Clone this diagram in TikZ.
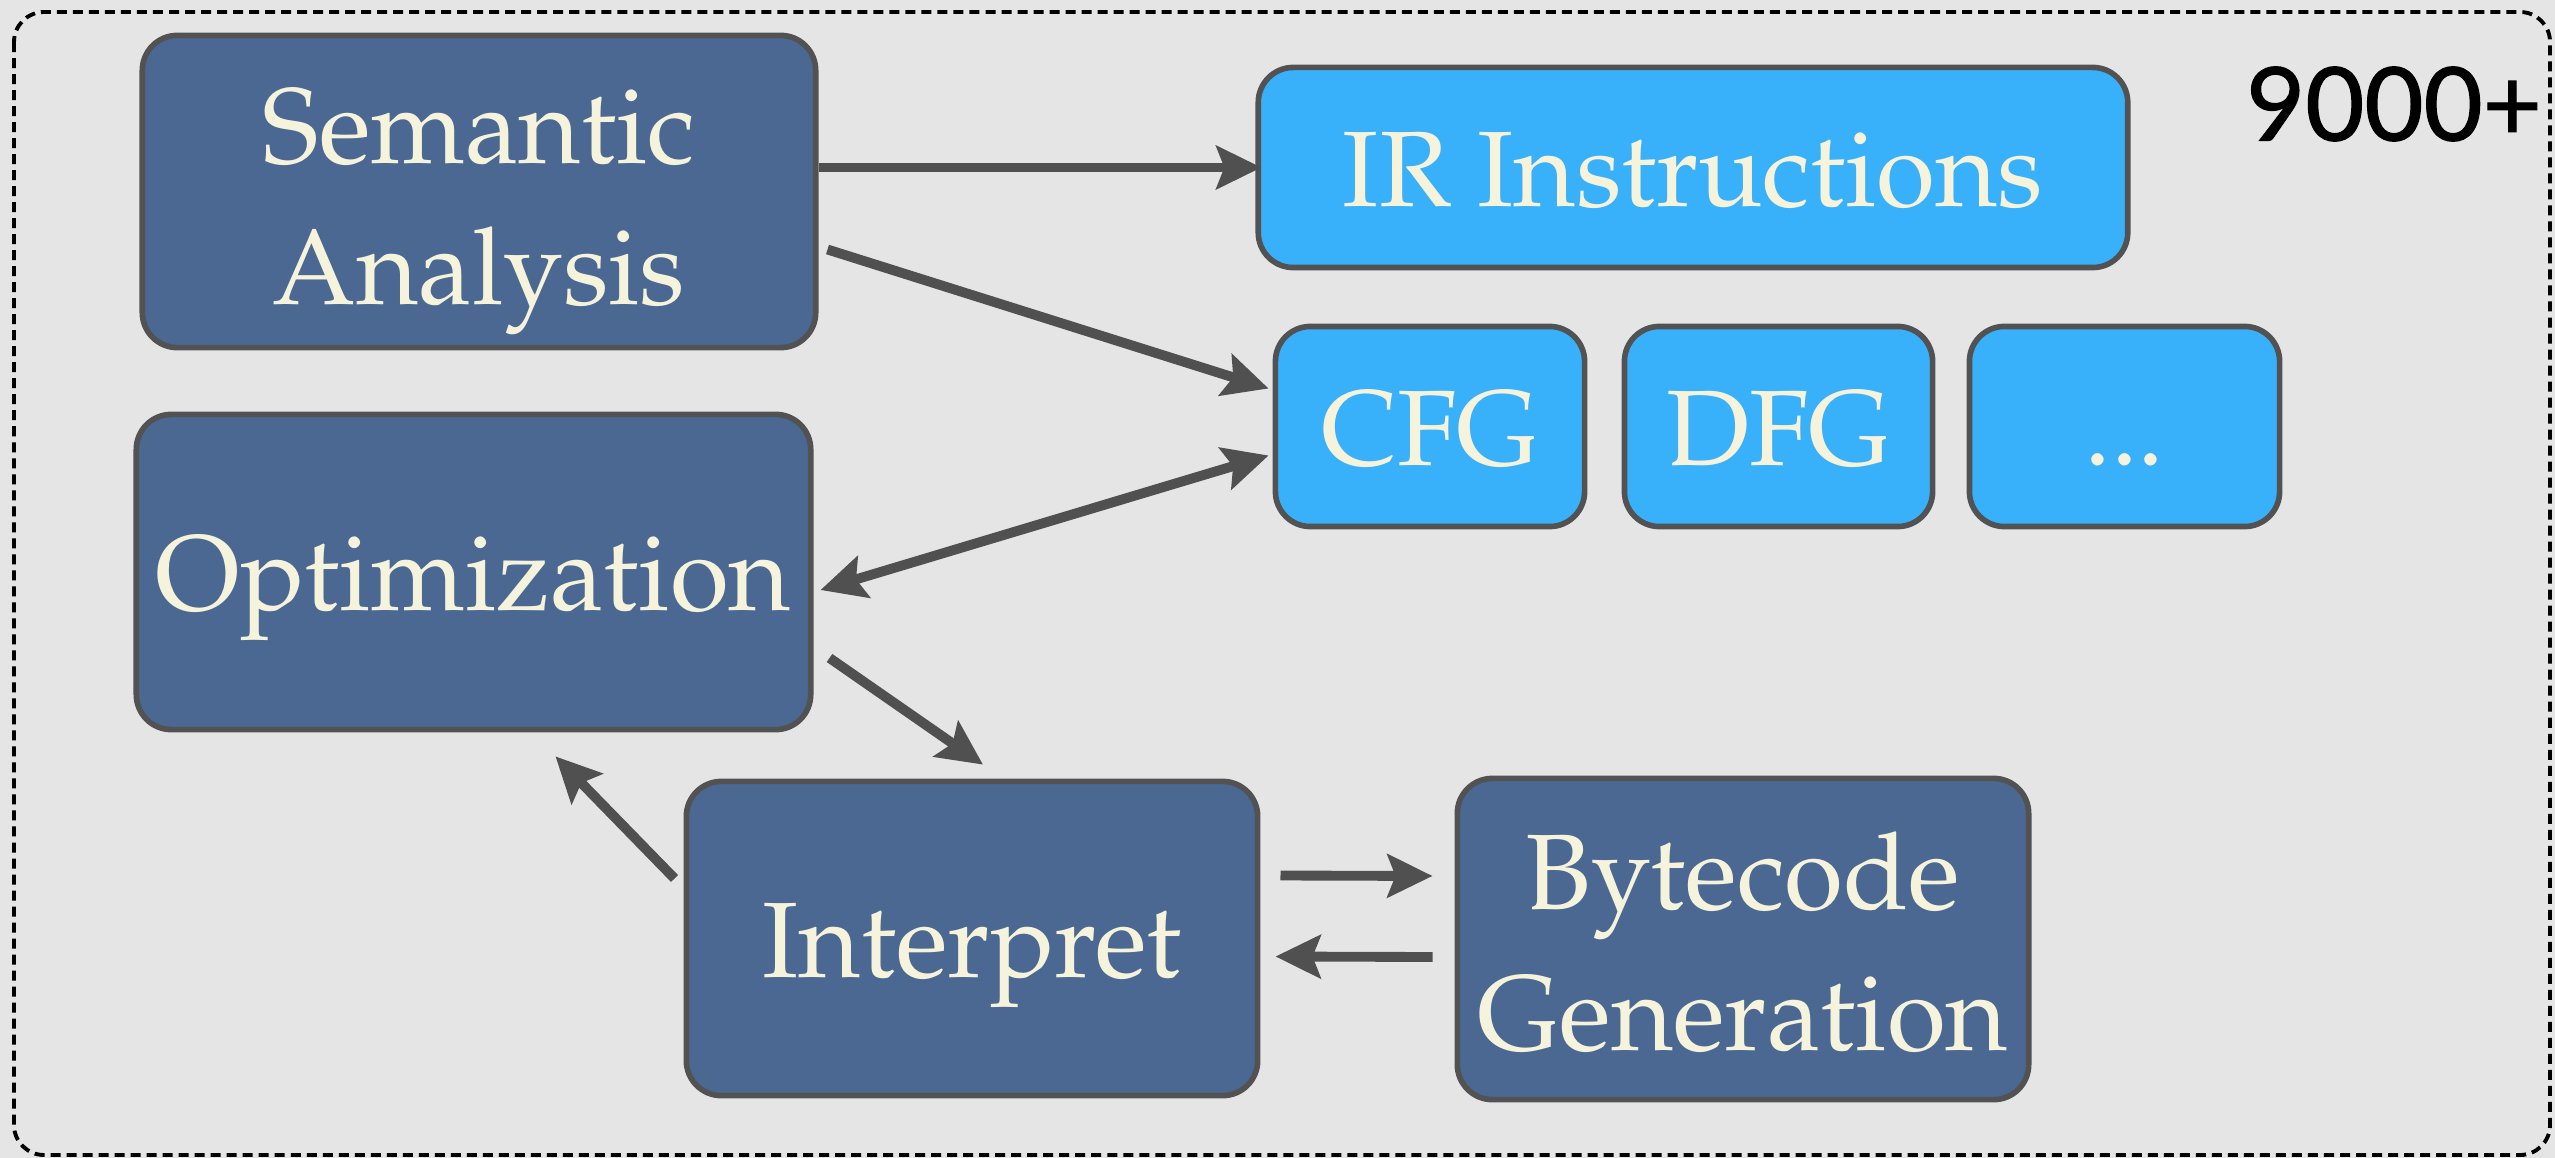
\documentclass[tikz,border=0pt]{standalone}
\usepackage[T1]{fontenc}
\usepackage{fontspec}
\usetikzlibrary{arrows.meta,calc}
\newfontfamily\numfont[FakeBold=1.2]{Lato}
\newcommand\palfont{\fontencoding{T1}\fontfamily{ppl}\selectfont}
% centred label block whose last baseline sits #1 below the node centre
\newcommand\sunk[2]{\raisebox{-#1}[0pt][0pt]{\begin{tabular}[b]{@{}c@{}}#2\end{tabular}}}
\definecolor{bg}{RGB}{229,229,229}
\definecolor{navy}{RGB}{74,104,145}
\definecolor{sky}{RGB}{56,176,250}
\definecolor{edge}{RGB}{82,82,82}
\definecolor{cream}{RGB}{246,243,220}
\definecolor{arrowgray}{RGB}{80,80,80}
\begin{document}
\begin{tikzpicture}[x=0.01cm,y=-0.01cm,
  box/.style={draw=edge, line width=1.6pt, rounded corners=0.35cm, text=cream,
    inner sep=0pt,
    font=\palfont\fontsize{30.5}{40}\selectfont},
  dark/.style={box, fill=navy},
  light/.style={box, fill=sky},
  tip/.style={Stealth[length=0.45cm,width=0.43cm,inset=0.08cm]},
  arr/.style={draw=arrowgray, line width=2.8pt, -{Stealth[length=0.45cm,width=0.43cm,inset=0.08cm]}},
  biarr/.style={draw=arrowgray, line width=2.8pt,
    {Stealth[length=0.45cm,width=0.43cm,inset=0.08cm]}-{Stealth[length=0.45cm,width=0.43cm,inset=0.08cm]}},
]
% page background and dashed frame
\fill[bg] (0,0) rectangle (2555,1158);
\draw[black, line width=1.1pt, dash pattern=on 0.1cm off 0.06cm, rounded corners=0.3cm]
  (14,12) rectangle (2550,1155);

% compiler stages
\node[dark, minimum width=6.73cm, minimum height=3.12cm] (sem) at (479,191.5) {\sunk{32pt}{Semantic\\Analysis}};
\node[dark, minimum width=6.74cm, minimum height=3.15cm] (opt) at (473.5,572) {\sunk{11pt}{Optimization}};
\node[dark, minimum width=5.71cm, minimum height=3.14cm] (intp) at (972,938.5) {\sunk{11.2pt}{Interpret}};
\node[dark, minimum width=5.71cm, minimum height=3.21cm] (byte) at (1743,939) {\sunk{31.6pt}{Bytecode\\Generation}};

% intermediate representations
\node[light, minimum width=8.69cm, minimum height=2.00cm] (ir) at (1693,167.5) {\sunk{11pt}{IR Instructions}};
\node[light, minimum width=3.09cm, minimum height=2.00cm] (cfg) at (1430,426.5) {\sunk{11pt}{CFG}};
\node[light, minimum width=3.08cm, minimum height=2.00cm] (dfg) at (1778.5,426.5) {\sunk{11pt}{DFG}};
\node[light, minimum width=3.10cm, minimum height=2.00cm] (more) at (2124.5,426.5) {\sunk{11pt}{...}};

% count label
\node[font=\numfont\fontsize{29}{32}\selectfont, text=black, inner sep=0pt] (count) at (2394,104) {9000+};

% connectors
\draw[arr] (sem.east |- ir.west) -- ($(ir.west)+(6,0)$);
\draw[arr] ($(sem.east)+(9,58)$) -- ($(cfg.west)+(-4,-38)$);
\draw[biarr] ($(opt.east)+(7,18)$) -- ($(cfg.west)+(-4,29)$);
\draw[arr] ($(opt.east)+(16,86)$) -- ($(intp.north)+(11,-14)$);
\draw[arr] ($(intp.west)+(-9,-60)$) -- ($(opt.south)+(82,24)$);
\draw[arr] ($(intp.east)+(20,-63)$) -- ($(byte.west)+(-22,-63)$);
\draw[arr] ($(byte.west)+(-22,18)$) -- ($(intp.east)+(15,18)$);
\end{tikzpicture}
\end{document}
